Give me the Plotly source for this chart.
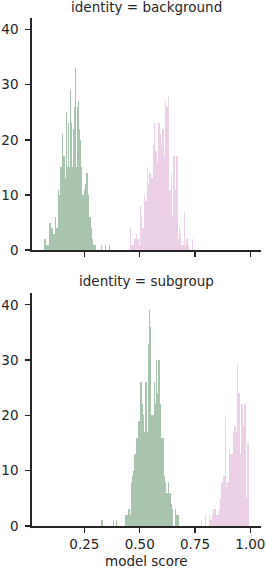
import numpy as np
import plotly.graph_objects as go
from plotly.subplots import make_subplots

# ---- data (histogram counts) ----
bin_width = 0.004327

bg_green_start = 0.0697
bg_green_counts = [2,2,1,1,1, 5,5,4,4,3,3, 6,4,4, 11,10,15,15, 21,17,17,13, 21,25,15,23,15,
                   29,23,15,22,26, 33,15,26,27,22, 20,15,10,10, 11,12,14,14,10, 7,6,6,4,2,
                   1,1,1,0, 0,0,0,0, 1, 0,0,0, 1, 0,0,0, 1]

bg_pink_start = 0.4545
bg_pink_counts = [4, 1,1,1,1, 2,2, 3, 2,2, 1, 8, 6, 4,4, 10, 9,9, 15, 12, 14,14, 13,13, 19, 23, 26,
                  18,18, 16, 23,23, 21, 19, 22,22, 17, 27, 26,26, 28, 11,11, 14, 6, 17,17, 11,
                  17,17, 3, 2, 4, 3, 1,1, 1, 7, 1, 2,2, 1, 0,0,0, 2]

sg_green_start = 0.3248
sg_green_counts = [1,1, 0,0,0,0,0,0,0,0,0,0,0, 1, 0,0, 1, 0,0,0,0,0,0,0,0, 2,2,2, 3,3, 2, 8, 9,
                   10,10, 13,13, 16, 16, 19,19, 26,26, 22, 20, 17, 26,26, 17, 33, 39, 36, 20,
                   20,20, 26, 22, 30,30, 24, 30,30, 22, 16, 16,16, 9, 8, 6,6, 8, 6,6, 4, 3,
                   0,0, 3, 2,2,2,2]

sg_pink_start = 0.7787
sg_pink_counts = [1, 0,0,0, 2, 0,0,0, 2, 1,1, 2, 3,3,3, 2,2,2, 3, 5, 8,8,8, 9,9, 20, 7, 8,8,
                  14, 13,13,13, 17, 18,18, 17, 29, 24,24, 13, 22,22, 18, 10, 22,22, 5, 15,15]

panel_titles = ["identity = background", "identity = subgroup"]
x_tick_vals = [0.25, 0.50, 0.75, 1.00]
y_tick_vals = [0, 10, 20, 30, 40]

GREEN = "#a8c4ae"
PINK = "#ecd0e6"
INK = "#262626"
FONT = "DejaVu Sans"
FS = 13.5


def centers(start, counts):
    return start + bin_width * (np.arange(len(counts)) + 0.5)


fig = make_subplots(rows=2, cols=1, shared_xaxes=False, vertical_spacing=0.08)

for row, (gs, gc, ps, pc) in enumerate(
        [(bg_green_start, bg_green_counts, bg_pink_start, bg_pink_counts),
         (sg_green_start, sg_green_counts, sg_pink_start, sg_pink_counts)], start=1):
    fig.add_trace(go.Bar(x=centers(gs, gc), y=gc, width=bin_width,
                         marker=dict(color=GREEN, line=dict(width=0)),
                         showlegend=False, hoverinfo="skip"), row=row, col=1)
    fig.add_trace(go.Bar(x=centers(ps, pc), y=pc, width=bin_width,
                         marker=dict(color=PINK, line=dict(width=0)),
                         showlegend=False, hoverinfo="skip"), row=row, col=1)

axis_common = dict(showline=True, linecolor=INK, linewidth=1.8, ticks="outside",
                   ticklen=5, tickwidth=1.4, tickcolor=INK, showgrid=False, zeroline=False,
                   ticklabeloverflow="allow",
                   tickfont=dict(family=FONT, size=FS, color=INK))

fig.update_xaxes(range=[0.0135, 1.048], tickvals=x_tick_vals, tickformat=".2f", **axis_common)
fig.update_xaxes(showticklabels=False, row=1, col=1)
fig.update_yaxes(range=[0, 42.1], tickvals=y_tick_vals, ticklabelstandoff=4, **axis_common)

fig.update_layout(
    width=266, height=568,
    margin=dict(l=26, r=1, t=18, b=42),
    plot_bgcolor="white", paper_bgcolor="white",
    barmode="overlay", bargap=0,
    yaxis=dict(domain=[0.543, 1.0]),
    yaxis2=dict(domain=[0.0, 0.4583]),
    annotations=[
        dict(text=panel_titles[0], x=0.5, y=1.0217, xref="paper", yref="paper",
             xanchor="center", yanchor="middle", showarrow=False,
             font=dict(family=FONT, size=FS, color=INK)),
        dict(text=panel_titles[1], x=0.5, y=0.482, xref="paper", yref="paper",
             xanchor="center", yanchor="middle", showarrow=False,
             font=dict(family=FONT, size=FS, color=INK)),
        dict(text="model score", x=0.5, y=-0.069, xref="paper", yref="paper",
             xanchor="center", yanchor="middle", showarrow=False,
             font=dict(family=FONT, size=FS, color=INK)),
    ],
)

fig.write_html("out.html",
               config={"displayModeBar": False, "staticPlot": True},
               post_script="document.body.style.margin='0';document.body.style.overflow='hidden';")
